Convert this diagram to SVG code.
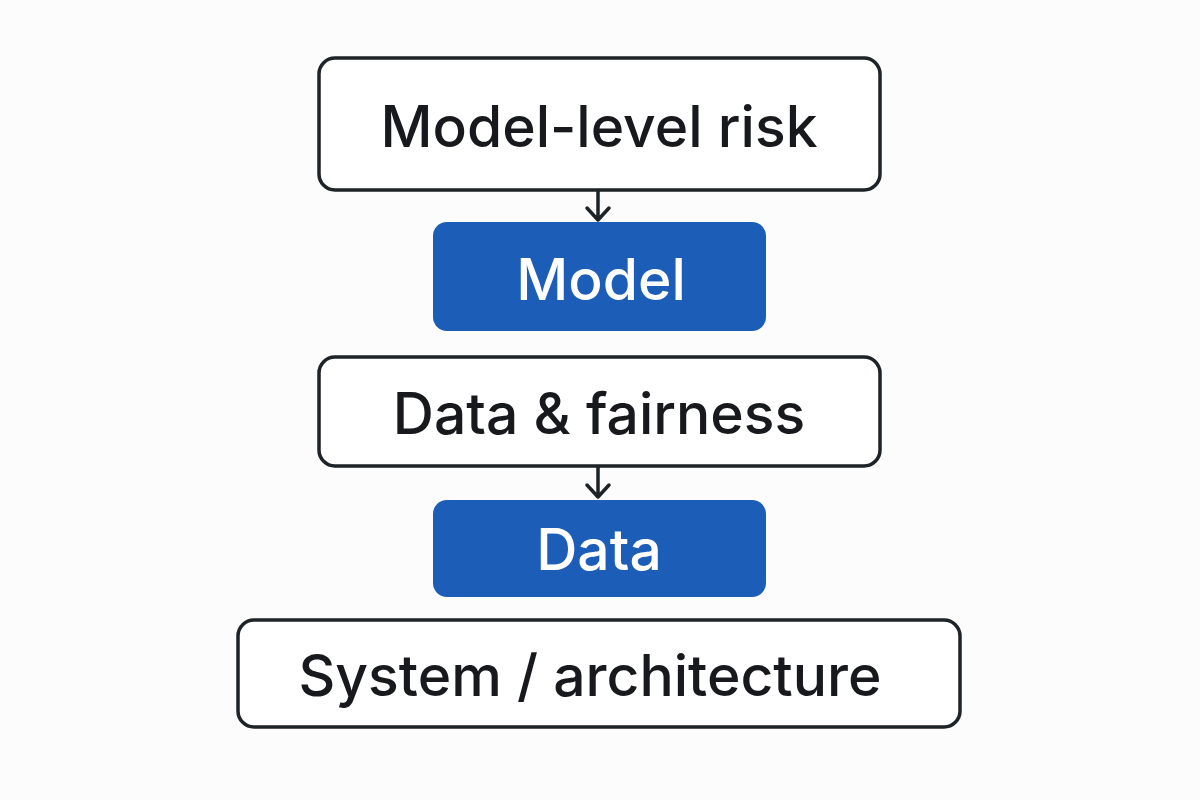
<svg xmlns="http://www.w3.org/2000/svg" width="1200" height="800" viewBox="0 0 1200 800">
<defs>
<style>
.w{fill:#fff;stroke:#1e2327;stroke-width:3.5}
.b{fill:#1c5db8;stroke:none}
.t{font-family:Inter,"Noto Sans",sans-serif;font-size:57px;font-weight:500;fill:#17191c;text-anchor:middle;dominant-baseline:central}
.tw{fill:#fff}
.c{fill:none;stroke:#1e2327;stroke-width:3.5;stroke-linecap:round;stroke-linejoin:round}
</style>
</defs>
<rect width="1200" height="800" fill="#fcfcfc"/>
<g id="n1"><rect class="w" x="319" y="58" width="561" height="132" rx="16"/><text class="t" x="599" y="126">Model-level risk</text></g>
<g id="n2"><rect class="b" x="433" y="222" width="333" height="109" rx="14"/><text class="t tw" x="601" y="279">Model</text></g>
<g id="n3"><rect class="w" x="319" y="357" width="561" height="109" rx="16"/><text class="t" x="599" y="413">Data &amp; fairness</text></g>
<g id="n4"><rect class="b" x="433" y="500" width="333" height="97" rx="14"/><text class="t tw" x="599" y="549">Data</text></g>
<g id="n5"><rect class="w" x="238" y="620" width="722" height="107" rx="16"/><text class="t" x="590" y="675">System / architecture</text></g>
<g id="connectors">
<path class="c" d="M598 191V220M587 208L598 220L609 208"/>
<path class="c" d="M598 467V497M587 485L598 497L609 485"/>
</g>
</svg>
